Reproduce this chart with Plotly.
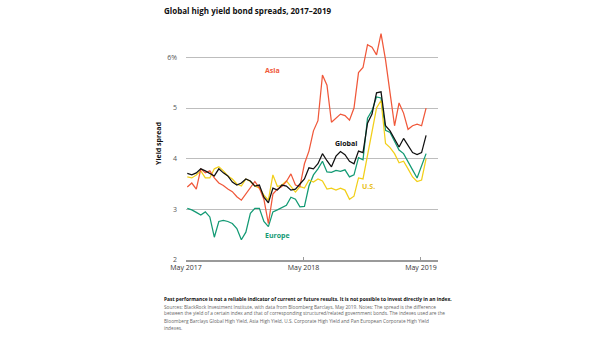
import plotly.graph_objects as go
import pandas as pd

dates = pd.date_range("2017-05-05", periods=54, freq="14D")

asia = [3.44, 3.52, 3.40, 3.80, 3.72, 3.76, 3.62, 3.52, 3.47, 3.40,
        3.35, 3.25, 3.18, 3.30, 3.42, 3.55, 3.42, 3.20, 2.72, 3.30,
        3.40, 3.45, 3.55, 3.70, 3.48, 3.45, 3.90, 4.15, 4.55, 4.75,
        5.65, 5.45, 4.72, 4.80, 4.88, 4.85, 4.76, 5.00, 5.70, 5.80,
        6.25, 6.20, 6.05, 6.47, 5.95, 5.30, 4.65, 5.10, 4.90, 4.58,
        4.65, 4.68, 4.65, 5.00]
glob = [3.71, 3.68, 3.72, 3.80, 3.76, 3.71, 3.66, 3.80, 3.72, 3.66,
        3.54, 3.48, 3.52, 3.60, 3.56, 3.46, 3.48, 3.24, 3.13, 3.42,
        3.38, 3.48, 3.46, 3.38, 3.40, 3.50, 3.60, 3.82, 3.80, 3.90,
        4.10, 3.96, 3.84, 4.05, 4.14, 4.08, 3.95, 3.90, 4.15, 4.12,
        4.70, 4.88, 5.30, 5.32, 4.65, 4.55, 4.40, 4.23, 4.40, 4.25,
        4.12, 4.08, 4.12, 4.46]
us = [3.64, 3.62, 3.68, 3.76, 3.62, 3.62, 3.80, 3.84, 3.76, 3.66,
      3.60, 3.50, 3.46, 3.60, 3.55, 3.46, 3.42, 3.28, 3.18, 3.68,
      3.45, 3.48, 3.56, 3.44, 3.34, 3.45, 3.42, 3.58, 3.54, 3.60,
      3.56, 3.40, 3.42, 3.38, 3.42, 3.38, 3.20, 3.26, 3.62, 3.60,
      4.05, 4.50, 5.00, 5.15, 4.30, 4.22, 4.10, 3.92, 3.95, 3.80,
      3.64, 3.55, 3.58, 4.00]
europe = [3.02, 2.99, 2.94, 2.89, 2.95, 2.85, 2.45, 2.76, 2.78, 2.76,
          2.72, 2.62, 2.40, 2.55, 2.92, 3.02, 3.02, 2.76, 2.66, 2.95,
          2.99, 3.04, 3.08, 3.24, 3.20, 3.05, 3.06, 3.46, 3.68, 3.80,
          3.95, 3.74, 3.73, 3.77, 3.75, 3.78, 3.64, 3.68, 4.02, 3.98,
          4.80, 4.95, 5.22, 5.20, 4.56, 4.52, 4.35, 4.17, 4.10, 3.95,
          3.78, 3.62, 3.88, 4.10]

y_ticks = [2, 3, 4, 5, 6]
y_labels = ["2", "3", "4", "5", "6%"]
x_ticks = ["2017-05-01", "2018-05-01", "2019-05-01"]
x_labels = ["May 2017", "May 2018", "May 2019"]

C_ASIA = "#f0583a"
C_GLOB = "#111111"
C_US = "#f2cf1a"
C_EU = "#139a74"

FONT = "Open Sans"

fig = go.Figure()
for name, vals, col in [("Europe", europe, C_EU), ("U.S.", us, C_US),
                        ("Asia", asia, C_ASIA), ("Global", glob, C_GLOB)]:
    fig.add_trace(go.Scatter(x=dates, y=vals, mode="lines", name=name,
                             line=dict(color=col, width=1.25), showlegend=False))

labels = [("Asia", "2018-01-25", 5.75, C_ASIA),
          ("Global", "2018-09-10", 4.3, C_GLOB),
          ("U.S.", "2018-11-20", 3.45, "#e8c020"),
          ("Europe", "2018-02-10", 2.48, C_EU)]
for t, xd, yv, col in labels:
    fig.add_annotation(x=xd, y=yv, text="<b>" + t + "</b>", showarrow=False,
                       font=dict(size=7, color=col, family=FONT),
                       xref="x", yref="y")

fig.update_layout(
    width=605, height=341,
    margin=dict(l=186, r=167, t=27, b=81),
    paper_bgcolor="white", plot_bgcolor="white",
    font=dict(family=FONT, size=7, color="#555555"),
    xaxis=dict(range=["2017-05-01", "2019-06-23"], tickvals=x_ticks, ticktext=x_labels,
               showgrid=False, showline=True, linecolor="#9a9a9a", linewidth=1.5,
               ticks="inside", ticklen=3, tickcolor="#9a9a9a",
               tickfont=dict(size=7, color="#333333", family=FONT), zeroline=False),
    yaxis=dict(range=[2, 6.6], tickvals=y_ticks, ticktext=y_labels,
               showgrid=True, gridcolor="#bdbdbd", gridwidth=1, zeroline=False,
               ticks="", ticklabelstandoff=8,
               tickfont=dict(size=7, color="#555555", family=FONT),
               title=dict(text="<b>Yield spread</b>", font=dict(size=7, color="#111111", family=FONT),
                          standoff=4)),
)

def px_x(px):
    return (px - 186) / (605 - 186 - 167)

def px_y(py):
    return (341 - 81 - py) / (341 - 27 - 81)

fig.add_annotation(x=px_x(162), y=px_y(3), xref="paper", yref="paper",
                   xanchor="left", yanchor="top", showarrow=False,
                   text="<b>Global high yield bond spreads, 2017–2019</b>",
                   font=dict(size=8, color="#111111", family=FONT))

foot_bold = "<b>Past performance is not a reliable indicator of current or future results. It is not possible to invest directly in an index.</b>"
foot_lines = [
    "Sources: BlackRock Investment Institute, with data from Bloomberg Barclays, May 2019. Notes: The spread is the difference",
    "between the yield of a certain index and that of corresponding structured/related government bonds. The indexes used are the",
    "Bloomberg Barclays Global High Yield, Asia High Yield, U.S. Corporate High Yield and Pan European Corporate High Yield",
    "indexes.",
]
fig.add_annotation(x=px_x(162), y=px_y(294), xref="paper", yref="paper",
                   xanchor="left", yanchor="top", showarrow=False, align="left",
                   text=foot_bold, font=dict(size=4.9, color="#111111", family=FONT))
for i, line in enumerate(foot_lines):
    fig.add_annotation(x=px_x(162), y=px_y(301.5 + 7 * i), xref="paper", yref="paper",
                       xanchor="left", yanchor="top", showarrow=False, align="left",
                       text=line, font=dict(size=4.75, color="#666666", family=FONT))

fig.write_html("out.html")
